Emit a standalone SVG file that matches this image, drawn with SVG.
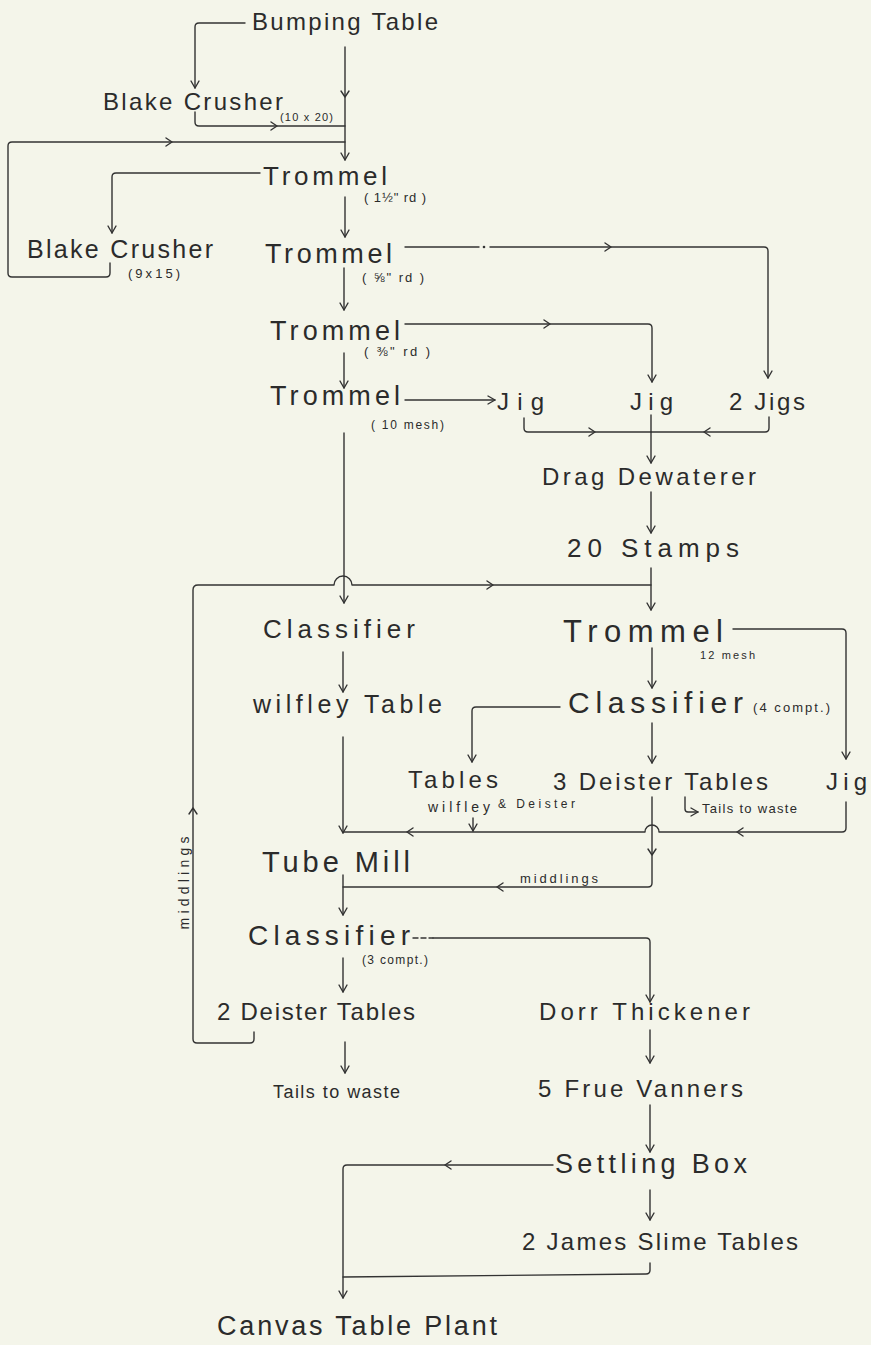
<svg xmlns="http://www.w3.org/2000/svg" xmlns:xlink="http://www.w3.org/1999/xlink" width="871" height="1345" viewBox="0 0 871 1345">
<style>
  .t { font-family: "Liberation Sans", "DejaVu Sans", sans-serif; fill: #2b2b2b; }
  .c { fill: none; stroke: #333; stroke-width: 1.4; stroke-linecap: round; stroke-linejoin: round; }
  .ch { fill: none; stroke: #333; stroke-width: 1.4; stroke-linecap: round; stroke-linejoin: round; }
</style>
<defs>
  <marker id="ah" viewBox="-9 -6 11 12" markerWidth="11" markerHeight="12" refX="0" refY="0" orient="auto" markerUnits="userSpaceOnUse">
    <path d="M-7,-4 L0,0 L-7,4" fill="none" stroke="#333" stroke-width="1.4" stroke-linecap="round" stroke-linejoin="round"/>
  </marker>
  <path id="chev" d="M-6,-4 L0,0 L-6,4"/>
</defs>
<rect x="0" y="0" width="871" height="1345" fill="#f4f5ea"/>

<g id="connectors">
  <path class="c" d="M245,23 H199 Q195,23 195,27 V88" marker-end="url(#ah)"/>
  <path class="c" d="M345,47 V160" marker-end="url(#ah)"/>
  <use xlink:href="#chev" class="ch" transform="translate(345,97) rotate(90)"/>
  <path class="c" d="M195,112 V122 Q195,126 199,126 H345"/>
  <use xlink:href="#chev" class="ch" transform="translate(277,126)"/>
  <path class="c" d="M110,263 V273 Q110,277 106,277 H12 Q8,277 8,273 V146 Q8,142 12,142 H345"/>
  <use xlink:href="#chev" class="ch" transform="translate(172,142)"/>
  <path class="c" d="M260,173 H116 Q112,173 112,177 V233" marker-end="url(#ah)"/>
  <path class="c" d="M345,197 V237" marker-end="url(#ah)"/>
  <path class="c" d="M405,247 H479"/>
  <circle cx="484" cy="247" r="1.3" fill="#333"/>
  <path class="c" d="M490,247 H764 Q768,247 768,251 V378" marker-end="url(#ah)"/>
  <use xlink:href="#chev" class="ch" transform="translate(611,247)"/>
  <path class="c" d="M344,268 V310" marker-end="url(#ah)"/>
  <path class="c" d="M405,324 H648 Q652,324 652,328 V382" marker-end="url(#ah)"/>
  <use xlink:href="#chev" class="ch" transform="translate(550,324)"/>
  <path class="c" d="M344,353 V388" marker-end="url(#ah)"/>
  <path class="c" d="M405,400 H495" marker-end="url(#ah)"/>
  <path class="c" d="M524,418 V428 Q524,432 528,432 H651"/>
  <use xlink:href="#chev" class="ch" transform="translate(595,432)"/>
  <path class="c" d="M769,417 V428 Q769,432 765,432 H651"/>
  <use xlink:href="#chev" class="ch" transform="translate(704,432) rotate(180)"/>
  <path class="c" d="M651,415 V463" marker-end="url(#ah)"/>
  <path class="c" d="M651,492 V533" marker-end="url(#ah)"/>
  <path class="c" d="M651,568 V610" marker-end="url(#ah)"/>
  <path class="c" d="M344,433 V603" marker-end="url(#ah)"/>
  <path class="c" d="M254,1032 V1039 Q254,1043 250,1043 H197 Q193,1043 193,1039 V590 Q193,585 198,585 H334 A9,9 0 0 1 352,585 H651"/>
  <use xlink:href="#chev" class="ch" transform="translate(193,808) rotate(-90)"/>
  <use xlink:href="#chev" class="ch" transform="translate(493,585)"/>
  <path class="c" d="M733,629 H842 Q846,629 846,633 V759" marker-end="url(#ah)"/>
  <path class="c" d="M652,648 V688" marker-end="url(#ah)"/>
  <path class="c" d="M560,707 H476 Q472,707 472,711 V762" marker-end="url(#ah)"/>
  <path class="c" d="M652,723 V763" marker-end="url(#ah)"/>
  <path class="c" d="M343,652 V692" marker-end="url(#ah)"/>
  <path class="c" d="M343,737 V833" marker-end="url(#ah)"/>
  <path class="c" d="M846,802 V828 Q846,832 842,832 H659 A7,7 0 0 0 645,832 H343"/>
  <use xlink:href="#chev" class="ch" transform="translate(737,832) rotate(180)"/>
  <use xlink:href="#chev" class="ch" transform="translate(407,832) rotate(180)"/>
  <path class="c" d="M473,818 V831" marker-end="url(#ah)"/>
  <path class="c" d="M652,797 V883 Q652,887 648,887 H343"/>
  <use xlink:href="#chev" class="ch" transform="translate(652,855) rotate(90)"/>
  <use xlink:href="#chev" class="ch" transform="translate(497,887) rotate(180)"/>
  <path class="c" d="M343,875 V915" marker-end="url(#ah)"/>
  <path class="c" d="M343,958 V992" marker-end="url(#ah)"/>
  <path class="c" d="M413,938 H433" stroke-dasharray="5 3"/>
  <path class="c" d="M433,938 H646 Q650,938 650,942 V1002" marker-end="url(#ah)"/>
  <path class="c" d="M345,1042 V1073" marker-end="url(#ah)"/>
  <path class="c" d="M650,1030 V1063" marker-end="url(#ah)"/>
  <path class="c" d="M650,1105 V1152" marker-end="url(#ah)"/>
  <path class="c" d="M553,1165 H347 Q343,1165 343,1169 V1298" marker-end="url(#ah)"/>
  <use xlink:href="#chev" class="ch" transform="translate(445,1165) rotate(180)"/>
  <path class="c" d="M650,1190 V1220" marker-end="url(#ah)"/>
  <path class="c" d="M650,1263 V1270 Q650,1274 646,1274 L343,1277"/>
  <path class="c" d="M685,797 V809 Q685,812 688,812 H698" marker-end="url(#ah)"/>
</g>

<g id="bumping-table"><text class="t" x="252" y="30" font-size="24" textLength="186" lengthAdjust="spacing">Bumping Table</text></g>
<g id="blake-crusher-1"><text class="t" x="103" y="110" font-size="24" textLength="180" lengthAdjust="spacing">Blake Crusher</text>
  <text class="t" x="280" y="121" font-size="11" textLength="53" lengthAdjust="spacing">(10 x 20)</text></g>
<g id="trommel-1"><text class="t" x="263" y="185" font-size="26" textLength="124" lengthAdjust="spacing">Trommel</text>
  <text class="t" x="364" y="202" font-size="13" textLength="62" lengthAdjust="spacing">( 1½" rd )</text></g>
<g id="blake-crusher-2"><text class="t" x="27" y="258" font-size="25" textLength="186" lengthAdjust="spacing">Blake Crusher</text>
  <text class="t" x="128" y="278" font-size="13" textLength="52" lengthAdjust="spacing">(9x15)</text></g>
<g id="trommel-2"><text class="t" x="265" y="263" font-size="27" textLength="127" lengthAdjust="spacing">Trommel</text>
  <text class="t" x="362" y="282" font-size="13" textLength="62" lengthAdjust="spacing">( ⅝" rd )</text></g>
<g id="trommel-3"><text class="t" x="270" y="340" font-size="27" textLength="130" lengthAdjust="spacing">Trommel</text>
  <text class="t" x="364" y="356" font-size="13" textLength="66" lengthAdjust="spacing">( ⅜" rd )</text></g>
<g id="trommel-4"><text class="t" x="270" y="405" font-size="27" textLength="130" lengthAdjust="spacing">Trommel</text>
  <text class="t" x="371" y="429" font-size="12" textLength="73" lengthAdjust="spacing">( 10 mesh)</text></g>
<g id="jig-1"><text class="t" x="497" y="410" font-size="24" textLength="47" lengthAdjust="spacing">Jig</text></g>
<g id="jig-2"><text class="t" x="630" y="410" font-size="24" textLength="43" lengthAdjust="spacing">Jig</text></g>
<g id="jigs-2"><text class="t" x="729" y="410" font-size="24" textLength="76" lengthAdjust="spacing">2 Jigs</text></g>
<g id="drag-dewaterer"><text class="t" x="542" y="485" font-size="24" textLength="214" lengthAdjust="spacing">Drag Dewaterer</text></g>
<g id="stamps"><text class="t" x="567" y="557" font-size="26" textLength="172" lengthAdjust="spacing">20 Stamps</text></g>
<g id="classifier-1"><text class="t" x="263" y="638" font-size="26" textLength="152" lengthAdjust="spacing">Classifier</text></g>
<g id="trommel-5"><text class="t" x="563" y="642" font-size="31" textLength="160" lengthAdjust="spacing">Trommel</text>
  <text class="t" x="700" y="659" font-size="11" textLength="55" lengthAdjust="spacing">12 mesh</text></g>
<g id="wilfley-table"><text class="t" x="253" y="713" font-size="25" textLength="189" lengthAdjust="spacing">wilfley Table</text></g>
<g id="classifier-2"><text class="t" x="568" y="713" font-size="30" textLength="175" lengthAdjust="spacing">Classifier</text>
  <text class="t" x="753" y="712" font-size="13" textLength="77" lengthAdjust="spacing">(4 compt.)</text></g>
<g id="tables"><text class="t" x="408" y="788" font-size="24" textLength="90" lengthAdjust="spacing">Tables</text>
  <text class="t" x="428" y="812" font-size="14" textLength="62" lengthAdjust="spacing">wilfley</text>
  <text class="t" x="498" y="808" font-size="12" textLength="77" lengthAdjust="spacing">&amp; Deister</text></g>
<g id="deister-tables-3"><text class="t" x="553" y="790" font-size="24" textLength="215" lengthAdjust="spacing">3 Deister Tables</text>
  <text class="t" x="702" y="813" font-size="13" textLength="95" lengthAdjust="spacing">Tails to waste</text></g>
<g id="jig-3"><text class="t" x="826" y="790" font-size="24" textLength="41" lengthAdjust="spacing">Jig</text></g>
<g id="tube-mill"><text class="t" x="262" y="872" font-size="29" textLength="148" lengthAdjust="spacing">Tube Mill</text></g>
<g id="middlings-labels"><text class="t" x="520" y="883" font-size="13" textLength="78" lengthAdjust="spacing">middlings</text>
  <text class="t" x="0" y="0" font-size="14" textLength="93" lengthAdjust="spacing" text-anchor="middle" transform="translate(189,883) rotate(-90)">middlings</text></g>
<g id="classifier-3"><text class="t" x="248" y="945" font-size="28" textLength="162" lengthAdjust="spacing">Classifier</text>
  <text class="t" x="362" y="964" font-size="12" textLength="66" lengthAdjust="spacing">(3 compt.)</text></g>
<g id="deister-tables-2"><text class="t" x="217" y="1020" font-size="24" textLength="198" lengthAdjust="spacing">2 Deister Tables</text></g>
<g id="dorr-thickener"><text class="t" x="539" y="1020" font-size="24" textLength="211" lengthAdjust="spacing">Dorr Thickener</text></g>
<g id="tails-to-waste"><text class="t" x="273" y="1098" font-size="18" textLength="127" lengthAdjust="spacing">Tails to waste</text></g>
<g id="frue-vanners"><text class="t" x="538" y="1097" font-size="24" textLength="205" lengthAdjust="spacing">5 Frue Vanners</text></g>
<g id="settling-box"><text class="t" x="555" y="1173" font-size="27" textLength="192" lengthAdjust="spacing">Settling Box</text></g>
<g id="james-slime-tables"><text class="t" x="522" y="1250" font-size="24" textLength="276" lengthAdjust="spacing">2 James Slime Tables</text></g>
<g id="canvas-table-plant"><text class="t" x="217" y="1335" font-size="27" textLength="280" lengthAdjust="spacing">Canvas Table Plant</text></g>
</svg>
